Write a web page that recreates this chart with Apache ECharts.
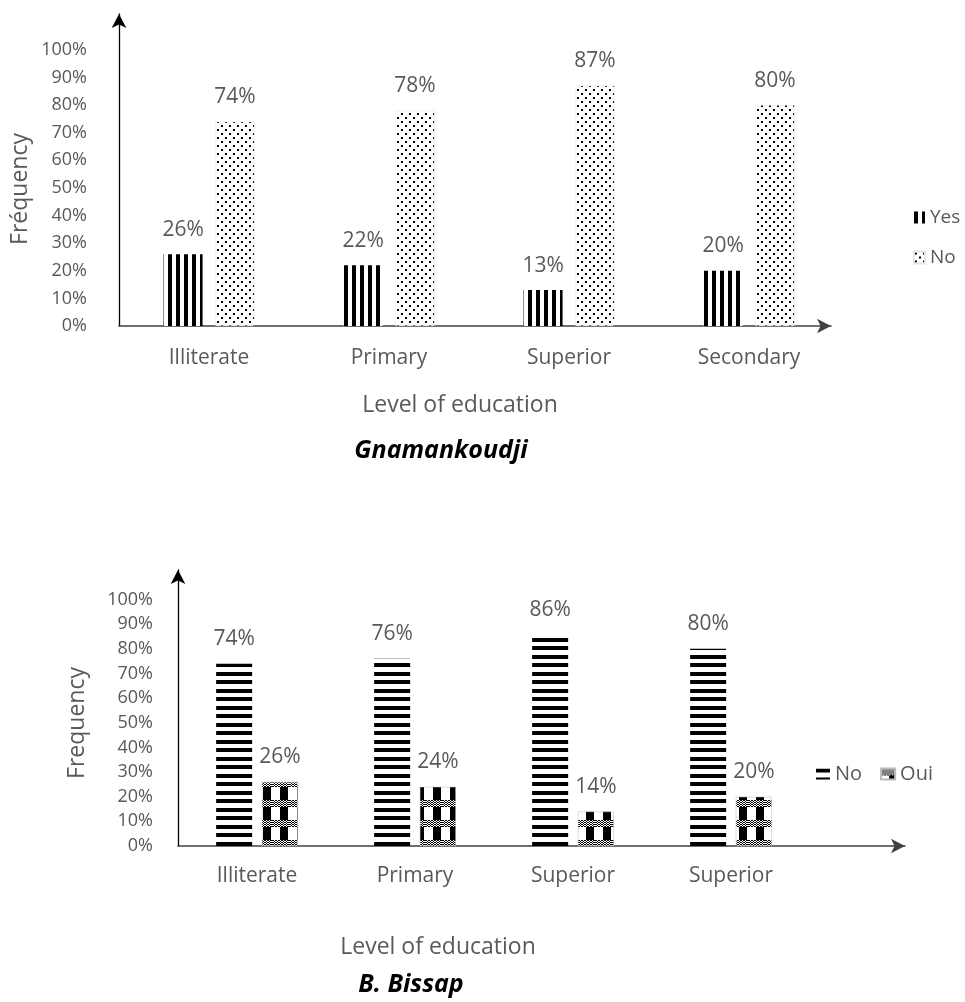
<!DOCTYPE html>
<html><head><meta charset="utf-8">
<script src="https://cdn.jsdelivr.net/npm/echarts@6/dist/echarts.min.js"></script>
<style>html,body{margin:0;padding:0;background:#fff}#c{width:965px;height:1002px}</style>
</head><body><div id="c"></div>
<script>
// ---- data ----
const categoriesTop = ['Illiterate', 'Primary', 'Superior', 'Secondary'];
const yesTop = [0.26, 0.22, 0.13, 0.20];
const noTop = [0.74, 0.78, 0.87, 0.80];
const categoriesBottom = ['Illiterate', 'Primary', 'Superior', 'Superior'];
const noBottom = [0.74, 0.76, 0.86, 0.80];
const ouiBottom = [0.26, 0.24, 0.14, 0.20];
const tickLabels = ['0%', '10%', '20%', '30%', '40%', '50%', '60%', '70%', '80%', '90%', '100%'];
const legendTop = ['Yes', 'No'];
const legendBottom = ['No', 'Oui'];

// ---- patterns ----
function makeCanvas(w, h, draw) {
  const c = document.createElement('canvas');
  c.width = w; c.height = h;
  const g = c.getContext('2d');
  g.fillStyle = '#fff'; g.fillRect(0, 0, w, h);
  g.fillStyle = '#000';
  draw(g);
  return c;
}
const vStripes = makeCanvas(8, 8, g => { g.fillRect(0, 0, 4, 8); });
const dots = makeCanvas(8, 8, g => { g.fillRect(1, 1, 2, 2); g.fillRect(5, 5, 2, 2); });
const hStripes = makeCanvas(8, 17, g => { g.fillRect(0, 0, 8, 4); g.fillRect(0, 9, 8, 4); });
const checker = makeCanvas(17, 20, g => {
  g.fillRect(8, 0, 8, 20);
  for (let y = 0; y < 7; y++) {
    for (let x = 0; x < 17; x++) {
      g.fillStyle = ((Math.floor(x / 1.5) + y) % 2 === 0) ? '#000' : '#fff';
      g.fillRect(x, y, 1, 1);
    }
  }
});
const pat = c => ({ image: c, repeat: 'repeat' });

const FONT = '"Open Sans", "Noto Sans", sans-serif';
const GREY = '#595959';

function yAxisCfg(grid, max, margin, fs) {
  return {
    type: 'value', gridIndex: grid, min: 0, max: max, interval: 0.1,
    axisLine: { show: true, symbol: ['none', 'arrow'], symbolSize: [11, 14], lineStyle: { color: '#000', width: 1.3 } },
    axisTick: { show: false }, splitLine: { show: false },
    axisLabel: {
      margin: margin, color: GREY, fontSize: fs, fontFamily: FONT,
      formatter: v => { const i = Math.round(v * 10); return (Math.abs(v * 10 - i) < 1e-6 && i <= 10) ? tickLabels[i] : ''; }
    }
  };
}
function catAxisCfg(grid, data, margin) {
  return {
    type: 'category', gridIndex: grid, data: data,
    axisLine: { show: false }, axisTick: { show: false },
    axisLabel: { margin: margin, color: GREY, fontSize: 21, fontFamily: FONT, interval: 0 }
  };
}
function lineAxisCfg(grid) {
  return {
    type: 'value', gridIndex: grid, min: 0, max: 1,
    axisLine: { show: true, symbol: ['none', 'arrow'], symbolSize: [11, 14], lineStyle: { color: '#404040', width: 1.5 } },
    axisTick: { show: false }, axisLabel: { show: false }, splitLine: { show: false }
  };
}
const hiddenY = grid => ({ type: 'value', gridIndex: grid, show: false, min: 0, max: 1 });
const labelCfg = {
  show: true, position: 'top', distance: 14, color: GREY, fontSize: 21, fontFamily: FONT,
  formatter: p => Math.round(p.value * 100) + '%'
};

const chart = echarts.init(document.getElementById('c'), null, { renderer: 'canvas' });
chart.setOption({
  backgroundColor: '#fff',
  animation: false,
  grid: [
    { left: 119, width: 720, top: 14, height: 312 },
    { left: 119, width: 712, top: 14, height: 312 },
    { left: 178, width: 632, top: 570, height: 276 },
    { left: 178, width: 727, top: 570, height: 276 }
  ],
  xAxis: [
    catAxisCfg(0, categoriesTop, 22),
    lineAxisCfg(1),
    catAxisCfg(2, categoriesBottom, 20),
    lineAxisCfg(3)
  ],
  yAxis: [
    yAxisCfg(0, 1.13, 32, 18),
    hiddenY(1),
    yAxisCfg(2, 1.12, 25, 18),
    hiddenY(3)
  ],
  legend: [
    {
      data: legendTop, orient: 'vertical', left: 908, top: 203, itemWidth: 11, itemHeight: 12, itemGap: 21,
      icon: 'rect', selectedMode: false,
      textStyle: { fontSize: 19, color: GREY, fontFamily: FONT }
    },
    {
      data: legendBottom.map(n => n === 'No' ? 'No_B' : n), orient: 'horizontal', left: 811, top: 759,
      itemWidth: 14, itemHeight: 11, itemGap: 18, icon: 'rect', selectedMode: false,
      formatter: n => n.replace('_B', ''),
      textStyle: { fontSize: 20, color: GREY, fontFamily: FONT }
    }
  ],
  series: [
    { name: 'Yes', type: 'bar', xAxisIndex: 0, yAxisIndex: 0, data: yesTop, barWidth: 39, barGap: '33%',
      itemStyle: { color: pat(vStripes) }, label: labelCfg },
    { name: 'No', type: 'bar', xAxisIndex: 0, yAxisIndex: 0, data: noTop, barWidth: 39, barGap: '33%',
      itemStyle: { color: pat(dots), borderColor: '#e6e6e6', borderWidth: 0.5 }, label: labelCfg },
    { name: 'No_B', type: 'bar', xAxisIndex: 2, yAxisIndex: 2, data: noBottom, barWidth: 36, barGap: '27%',
      itemStyle: { color: pat(hStripes) }, label: labelCfg },
    { name: 'Oui', type: 'bar', xAxisIndex: 2, yAxisIndex: 2, data: ouiBottom, barWidth: 36, barGap: '27%',
      itemStyle: { color: pat(checker), borderColor: '#bbb', borderWidth: 0.5 }, label: labelCfg }
  ],
  graphic: [
    { type: 'text', x: 20, y: 189, rotation: Math.PI / 2,
      style: { text: 'Fréquency', fontSize: 23, fontFamily: FONT, fill: GREY, align: 'center', verticalAlign: 'middle' } },
    { type: 'text', x: 77, y: 723, rotation: Math.PI / 2,
      style: { text: 'Frequency', fontSize: 23, fontFamily: FONT, fill: GREY, align: 'center', verticalAlign: 'middle' } },
    { type: 'text', x: 460, y: 405,
      style: { text: 'Level of education', fontSize: 23, fontFamily: FONT, fill: GREY, align: 'center', verticalAlign: 'middle' } },
    { type: 'text', x: 441, y: 451,
      style: { text: 'Gnamankoudji', fontSize: 25, fontWeight: 'bold', fontStyle: 'italic', fontFamily: FONT, fill: '#000', align: 'center', verticalAlign: 'middle' } },
    { type: 'text', x: 438, y: 947,
      style: { text: 'Level of education', fontSize: 23, fontFamily: FONT, fill: GREY, align: 'center', verticalAlign: 'middle' } },
    { type: 'text', x: 411, y: 985,
      style: { text: 'B. Bissap', fontSize: 25, fontWeight: 'bold', fontStyle: 'italic', fontFamily: FONT, fill: '#000', align: 'center', verticalAlign: 'middle' } }
  ]
});
</script>
</body></html>
